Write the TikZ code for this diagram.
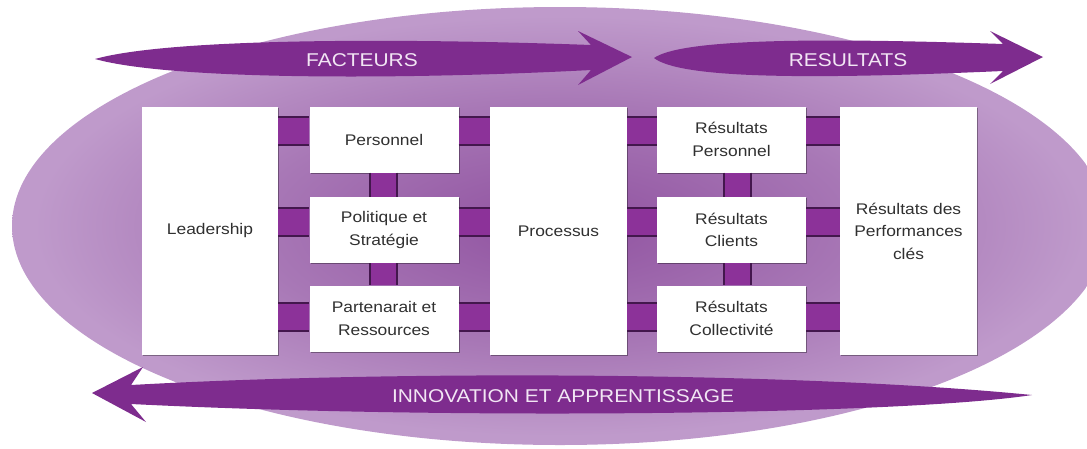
\documentclass[tikz,border=0pt]{standalone}
\usepackage{fontspec}
\setmainfont{Liberation Sans}[FakeStretch=1.13]
\usetikzlibrary{shadows}

\definecolor{ovaldark}{HTML}{9052A0}
\definecolor{ovalmid}{HTML}{A878B6}
\definecolor{ovallight}{HTML}{BF9ACB}
\definecolor{arrowpurple}{HTML}{7E2C8E}
\definecolor{linkpurple}{HTML}{8C3299}
\definecolor{linkdark}{HTML}{43174D}
\definecolor{boxtext}{HTML}{303030}
\definecolor{bannertext}{HTML}{F2E6F4}

\pgfdeclareradialshading{ovalshade}{\pgfpoint{0bp}{0bp}}{color(0bp)=(ovaldark); color(14bp)=(ovalmid); color(24bp)=(ovallight); color(50bp)=(ovallight)}

% bars between boxes
\newcommand{\hlink}[4]{%
  \fill[linkpurple] (#1.east |- 0,#3) rectangle (#2.west |- 0,#4);
  \draw[linkedge] (#1.east |- 0,#3) -- (#2.west |- 0,#3) (#1.east |- 0,#4) -- (#2.west |- 0,#4);}
\newcommand{\vlink}[4]{%
  \fill[linkpurple] (#3,0 |- #1.south) rectangle (#4,0 |- #2.north);
  \draw[linkedge] (#3,0 |- #1.south) -- (#3,0 |- #2.north) (#4,0 |- #1.south) -- (#4,0 |- #2.north);}

\begin{document}
\begin{tikzpicture}[x=1pt, y=-1pt]
    \tikzset{%
      box/.style={fill=white, text=boxtext, align=center, inner sep=2pt,
        font=\fontsize{15.4}{22.5}\selectfont,
        drop shadow={shadow xshift=1.3pt, shadow yshift=-1.3pt, fill=black, opacity=0.35}},
      tallbox/.style={box, minimum height=248},
      smallbox/.style={box, minimum width=149, minimum height=66},
      banner/.style={text=bannertext, font=\fontsize{18.5}{22}\selectfont},
      linkedge/.style={linkdark, line width=1.2pt}
      }
    \useasboundingbox (0,0) rectangle (1087,448);

    \shade[shading=ovalshade] (560,226) ellipse [x radius=548, y radius=219];

    % arrows
    \fill[arrowpurple] (95,59) .. controls (170,38) and (400,38) .. (591,45) -- (578,31) -- (632,57)
      -- (578,85) -- (591,70) .. controls (400,80) and (170,80) .. (95,59) -- cycle;
    \fill[arrowpurple] (654,58) .. controls (680,40) and (800,37) .. (1003,44) -- (990,31) -- (1043,57)
      -- (990,84) -- (1003,71) .. controls (800,80) and (680,78) .. (654,58) -- cycle;
    \fill[arrowpurple] (92,393) -- (143,367) -- (131,385) .. controls (400,370) and (800,372) .. (1032,395)
      .. controls (900,415) and (450,420) .. (131,404) -- (146,422) -- cycle;
    \node[banner] (Fac) at (362,60) {FACTEURS};
    \node[banner] (Res) at (848,60) {RESULTATS};
    \node[banner] (Inno) at (563,396) {INNOVATION ET APPRENTISSAGE};

    \node[tallbox, minimum width=136] (Lead) at (210,231) {Leadership};
    \node[smallbox] (Pers) at (384,139.5) {Personnel};
    \node[smallbox] (Poli) at (384,230) {Politique et\\Stratégie};
    \node[smallbox] (Part) at (384,318.5) {Partenarait et\\Ressources};
    \node[tallbox, minimum width=137] (Proc) at (558.5,231) {Processus};
    \node[smallbox] (RPers) at (731.5,139.5) {Résultats\\Personnel};
    \node[smallbox] (RCli) at (731.5,230) {Résultats\\Clients};
    \node[smallbox] (RColl) at (731.5,318.5) {Résultats\\Collectivité};
    \node[tallbox, minimum width=137] (Perf) at (908.5,231) {Résultats des\\Performances\\clés};

    \hlink{Lead}{Pers}{117}{145}
    \hlink{Lead}{Poli}{208}{236}
    \hlink{Lead}{Part}{303}{331}
    \hlink{Pers}{Proc}{117}{145}
    \hlink{Poli}{Proc}{208}{236}
    \hlink{Part}{Proc}{303}{331}
    \vlink{Pers}{Poli}{370}{397}
    \vlink{Poli}{Part}{370}{397}

    \hlink{Proc}{RPers}{117}{145}
    \hlink{Proc}{RCli}{208}{236}
    \hlink{Proc}{RColl}{303}{331}
    \hlink{RPers}{Perf}{117}{145}
    \hlink{RCli}{Perf}{208}{236}
    \hlink{RColl}{Perf}{303}{331}
    \vlink{RPers}{RCli}{724}{751}
    \vlink{RCli}{RColl}{724}{751}
  \end{tikzpicture}
\end{document}
